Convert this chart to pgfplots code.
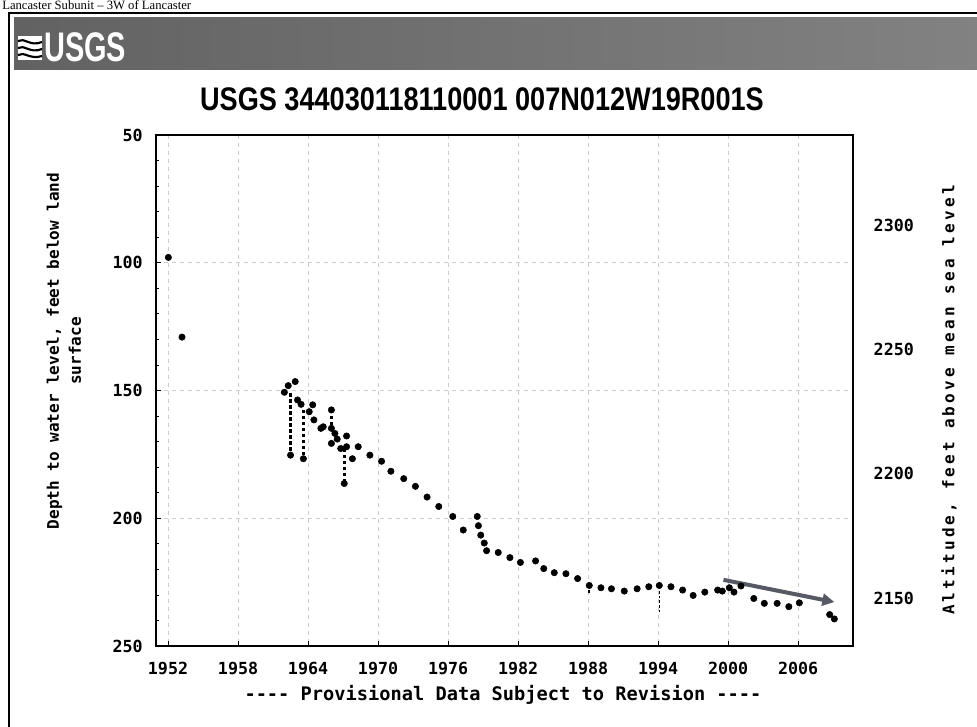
\documentclass[border=0pt]{standalone}
\usepackage{fontspec}
\usepackage{pgfplots}
\pgfplotsset{compat=1.18}
\usetikzlibrary{arrows.meta}
\setmainfont{Liberation Serif}
\newfontfamily\monob{DejaVu Sans Mono}
\newfontfamily\titlefont[FakeStretch=0.83]{Liberation Sans}
\newfontfamily\logofont[FakeStretch=0.70]{Liberation Sans}
\definecolor{hdrA}{RGB}{98,98,98}
\definecolor{hdrB}{RGB}{130,130,130}
\definecolor{arrowc}{RGB}{85,90,100}

\pgfplotstableread{
x y
1952.03 97.9
1953.2 129.1
1961.97 150.7
1962.3 148.1
1962.9 146.5
1962.5 175.3
1963.1 153.7
1963.4 155.4
1963.6 176.7
1964.1 158.3
1964.4 155.6
1964.5 161.5
1965.1 164.8
1965.3 164.2
1966.0 157.6
1966.0 164.8
1966.3 166.8
1966.5 169.0
1966.0 170.7
1967.3 167.8
1966.8 172.7
1967.3 172.0
1967.1 186.4
1967.8 176.7
1968.3 172.0
1969.3 175.3
1970.3 177.7
1971.1 181.6
1972.2 184.5
1973.2 187.5
1974.2 191.7
1975.2 195.4
1976.4 199.3
1977.3 204.6
1978.5 199.3
1978.6 202.9
1978.8 206.6
1979.1 209.7
1979.3 212.7
1980.3 213.4
1981.3 215.4
1982.2 217.3
1983.5 216.7
1984.2 219.7
1985.1 221.3
1986.1 221.7
1987.1 223.6
1988.1 226.3
1989.1 227.2
1990.0 227.6
1991.1 228.5
1992.2 227.6
1993.2 226.8
1994.1 226.3
1995.1 226.8
1996.1 228.1
1997.0 230.2
1998.0 228.9
1999.1 228.1
1999.5 228.5
2000.1 227.2
2000.5 228.9
2001.1 226.5
2002.2 231.4
2003.1 233.3
2004.2 233.3
2005.2 234.6
2006.1 233.1
2008.7 237.7
2009.1 239.4
}\mainpts

\begin{document}
\begin{tikzpicture}
\useasboundingbox (0pt,0pt) rectangle (732.75pt,-545.25pt);
\fill[white] (0pt,0pt) rectangle (732.75pt,-545.25pt);
\begin{scope}[x=0.75pt,y=-0.75pt]
  % caption at the very top
  \node[anchor=base west,inner sep=0pt,font=\fontsize{9.5}{10}\selectfont] at (2,10) {Lancaster Subunit -- 3W of Lancaster};
  % outer frame
  \draw[line width=1.4pt] (9,730) -- (9,13) -- (980,13);
  % header bar
  \shade[left color=hdrA,right color=hdrB] (14,18) rectangle (980,70);
  % logo
  \fill[white] (18,36) rectangle (42,60);
  \draw[black,line width=1.6pt] (18,41) .. controls (24,37) and (30,47) .. (42,42);
  \draw[black,line width=1.6pt] (18,48) .. controls (24,44) and (30,54) .. (42,49);
  \draw[black,line width=1.6pt] (18,55) .. controls (24,51) and (30,60) .. (42,56);
  \node[anchor=west,inner sep=0pt,text=white,font=\logofont\bfseries\fontsize{31}{31}\selectfont] at (44,47) {USGS};
  % title
  \node[inner sep=0pt,font=\titlefont\bfseries\fontsize{24.5}{26}\selectfont] at (482,99) {USGS 344030118110001 007N012W19R001S};
  % left axis label
  \node[rotate=90,align=center,inner sep=0pt,font=\monob\bfseries\fontsize{12}{16.5}\selectfont] at (64,351) {Depth to water level, feet below land\\surface};
  % right axis label
  \node[rotate=90,inner sep=0pt,font=\monob\bfseries\fontsize{12}{14}\selectfont\addfontfeature{LetterSpace=20}] at (949,400) {Altitude, feet above mean sea level};
  % footer
  \node[inner sep=0pt,font=\monob\bfseries\fontsize{14}{16}\selectfont] at (503,695) {---- Provisional Data Subject to Revision ----};
\end{scope}

\begin{axis}[
  at={(117pt,-484.5pt)}, anchor=south west,
  width=522.75pt, height=383.25pt, scale only axis,
  xmin=1950.97, xmax=2010.7, ymin=50, ymax=250, y dir=reverse,
  xtick={1952,1958,...,2006}, ytick={50,100,...,250},
  minor y tick num=4,
  xtick pos=bottom, ytick pos=left,
  tick align=inside,
  major tick length=4pt, minor tick length=2.5pt,
  grid=major, major grid style={gray!40, dashed, line width=0.6pt},
  axis line style={line width=1.5pt},
  tick style={black, line width=0.6pt},
  /pgf/number format/assume math mode=true,
  /pgf/number format/1000 sep={},
  tick label style={font=\monob\bfseries\fontsize{12.5}{14}\selectfont},
  xticklabel style={yshift=-8.5pt},
  yticklabel style={xshift=-6.5pt},
  clip=false,
]
\addplot[black, line width=2pt, dash pattern=on 2.5pt off 2pt] coordinates {(1962.5,151.1) (1962.5,175.3)};
\addplot[black, line width=2pt, dash pattern=on 2.5pt off 2pt] coordinates {(1963.6,157.6) (1963.6,176.7)};
\addplot[black, line width=2pt, dash pattern=on 2.5pt off 2pt] coordinates {(1966.0,157.6) (1966.0,164.8)};
\addplot[black, line width=2pt, dash pattern=on 2.5pt off 2pt] coordinates {(1967.1,172.7) (1967.1,186.4)};
\addplot[black, line width=1.5pt, dash pattern=on 2pt off 1.5pt] coordinates {(1988.1,226.3) (1988.1,229.5)};
\addplot[black, line width=0.8pt, dash pattern=on 2pt off 1.5pt] coordinates {(1994.1,224.8) (1994.1,237.0)};
\addplot[only marks, mark=*, mark size=2.4pt, black] table {\mainpts};
\addplot[-{Triangle[length=9pt,width=9pt]}, line width=3pt, color=arrowc] coordinates {(1999.6,224.1) (2009.1,232.8)};
\end{axis}

\begin{axis}[
  at={(117pt,-484.5pt)}, anchor=south west,
  width=522.75pt, height=383.25pt, scale only axis,
  xmin=1950.97, xmax=2010.7, ymin=2130.7, ymax=2336.2,
  axis x line=none, axis y line*=right,
  ytick={2150,2200,2250,2300},
  major tick length=0pt,
  axis line style={line width=1.5pt},
  /pgf/number format/assume math mode=true,
  /pgf/number format/1000 sep={},
  tick label style={font=\monob\bfseries\fontsize{12.5}{14}\selectfont},
  yticklabel style={xshift=12pt},
]
\addplot[draw=none] coordinates {(1960,2200)};
\end{axis}
\end{tikzpicture}
\end{document}
